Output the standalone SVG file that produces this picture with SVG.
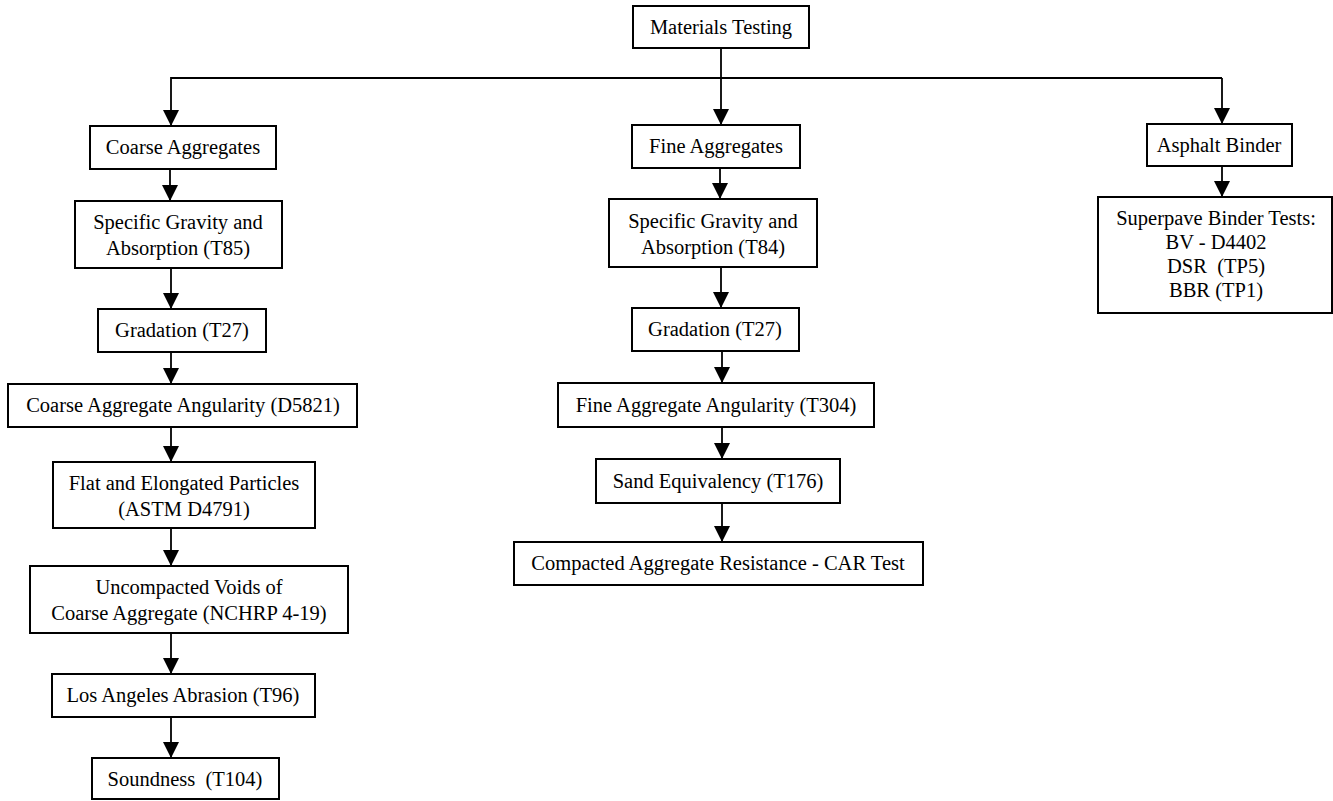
<svg xmlns="http://www.w3.org/2000/svg" width="1333" height="801" viewBox="0 0 1333 801">
<style>
.box{fill:#fff;stroke:#000;stroke-width:2}
.lbl{font-family:"Liberation Serif","Times New Roman",serif;font-size:20.5px;fill:#000;text-anchor:middle}
.con{fill:none;stroke:#000;stroke-width:1.8}
</style>
<defs>
<marker id="ah" markerUnits="userSpaceOnUse" markerWidth="16" markerHeight="17" refX="16" refY="8" orient="auto">
<path d="M0,0 L16,8 L0,16 Z" fill="#000"/>
</marker>
</defs>
<rect width="1333" height="801" fill="#fff"/>
<g id="connectors">
<line class="con" x1="721" y1="48" x2="721" y2="125" marker-end="url(#ah)"/>
<polyline class="con" points="1222,78 171,78 171,126" marker-end="url(#ah)"/>
<line class="con" x1="1222" y1="78" x2="1222" y2="124" marker-end="url(#ah)"/>
<line class="con" x1="170" y1="169" x2="170" y2="201" marker-end="url(#ah)"/>
<line class="con" x1="171" y1="268" x2="171" y2="309" marker-end="url(#ah)"/>
<line class="con" x1="171" y1="352" x2="171" y2="384" marker-end="url(#ah)"/>
<line class="con" x1="171" y1="427" x2="171" y2="462" marker-end="url(#ah)"/>
<line class="con" x1="171" y1="528" x2="171" y2="566" marker-end="url(#ah)"/>
<line class="con" x1="171" y1="633" x2="171" y2="674" marker-end="url(#ah)"/>
<line class="con" x1="171" y1="717" x2="171" y2="758" marker-end="url(#ah)"/>
<line class="con" x1="720" y1="168" x2="720" y2="199" marker-end="url(#ah)"/>
<line class="con" x1="721" y1="267" x2="721" y2="308" marker-end="url(#ah)"/>
<line class="con" x1="722" y1="351" x2="722" y2="383" marker-end="url(#ah)"/>
<line class="con" x1="722" y1="427" x2="722" y2="459" marker-end="url(#ah)"/>
<line class="con" x1="722" y1="503" x2="722" y2="542" marker-end="url(#ah)"/>
<line class="con" x1="1222" y1="166" x2="1222" y2="197" marker-end="url(#ah)"/>
</g>
<g id="materials-testing"><rect class="box" x="633" y="6" width="176" height="42"/><text class="lbl" x="721" y="34">Materials Testing</text></g>
<g id="coarse-aggregates"><rect class="box" x="90" y="126" width="186" height="43"/><text class="lbl" x="183" y="154">Coarse Aggregates</text></g>
<g id="sg-t85"><rect class="box" x="75" y="201" width="207" height="67"/><text class="lbl" x="178" y="229">Specific Gravity and</text><text class="lbl" x="178" y="255">Absorption (T85)</text></g>
<g id="gradation-coarse"><rect class="box" x="98" y="309" width="168" height="43"/><text class="lbl" x="182" y="337">Gradation (T27)</text></g>
<g id="caa"><rect class="box" x="8" y="384" width="349" height="43"/><text class="lbl" x="183" y="412">Coarse Aggregate Angularity (D5821)</text></g>
<g id="flat-elongated"><rect class="box" x="53" y="462" width="262" height="66"/><text class="lbl" x="184" y="490">Flat and Elongated Particles</text><text class="lbl" x="184" y="516">(ASTM D4791)</text></g>
<g id="uncompacted"><rect class="box" x="30" y="566" width="318" height="67"/><text class="lbl" x="189" y="594">Uncompacted Voids of</text><text class="lbl" x="189" y="620">Coarse Aggregate (NCHRP 4-19)</text></g>
<g id="la-abrasion"><rect class="box" x="52" y="674" width="263" height="43"/><text class="lbl" x="183" y="702">Los Angeles Abrasion (T96)</text></g>
<g id="soundness"><rect class="box" x="92" y="758" width="187" height="41"/><text class="lbl" x="185" y="786" xml:space="preserve">Soundness  (T104)</text></g>
<g id="fine-aggregates"><rect class="box" x="632" y="125" width="168" height="43"/><text class="lbl" x="716" y="153">Fine Aggregates</text></g>
<g id="sg-t84"><rect class="box" x="609" y="199" width="208" height="68"/><text class="lbl" x="713" y="228">Specific Gravity and</text><text class="lbl" x="713" y="254">Absorption (T84)</text></g>
<g id="gradation-fine"><rect class="box" x="632" y="308" width="167" height="43"/><text class="lbl" x="715" y="336">Gradation (T27)</text></g>
<g id="faa"><rect class="box" x="558" y="383" width="316" height="44"/><text class="lbl" x="716" y="412">Fine Aggregate Angularity (T304)</text></g>
<g id="sand-equivalency"><rect class="box" x="596" y="459" width="244" height="44"/><text class="lbl" x="718" y="488">Sand Equivalency (T176)</text></g>
<g id="car-test"><rect class="box" x="514" y="542" width="409" height="43"/><text class="lbl" x="718" y="570">Compacted Aggregate Resistance - CAR Test</text></g>
<g id="asphalt-binder"><rect class="box" x="1147" y="124" width="145" height="42"/><text class="lbl" x="1219" y="152">Asphalt Binder</text></g>
<g id="superpave"><rect class="box" x="1098" y="197" width="234" height="116"/><text class="lbl" x="1216" y="225">Superpave Binder Tests:</text><text class="lbl" x="1216" y="249">BV - D4402</text><text class="lbl" x="1216" y="273" xml:space="preserve">DSR  (TP5)</text><text class="lbl" x="1216" y="297">BBR (TP1)</text></g>
</svg>
